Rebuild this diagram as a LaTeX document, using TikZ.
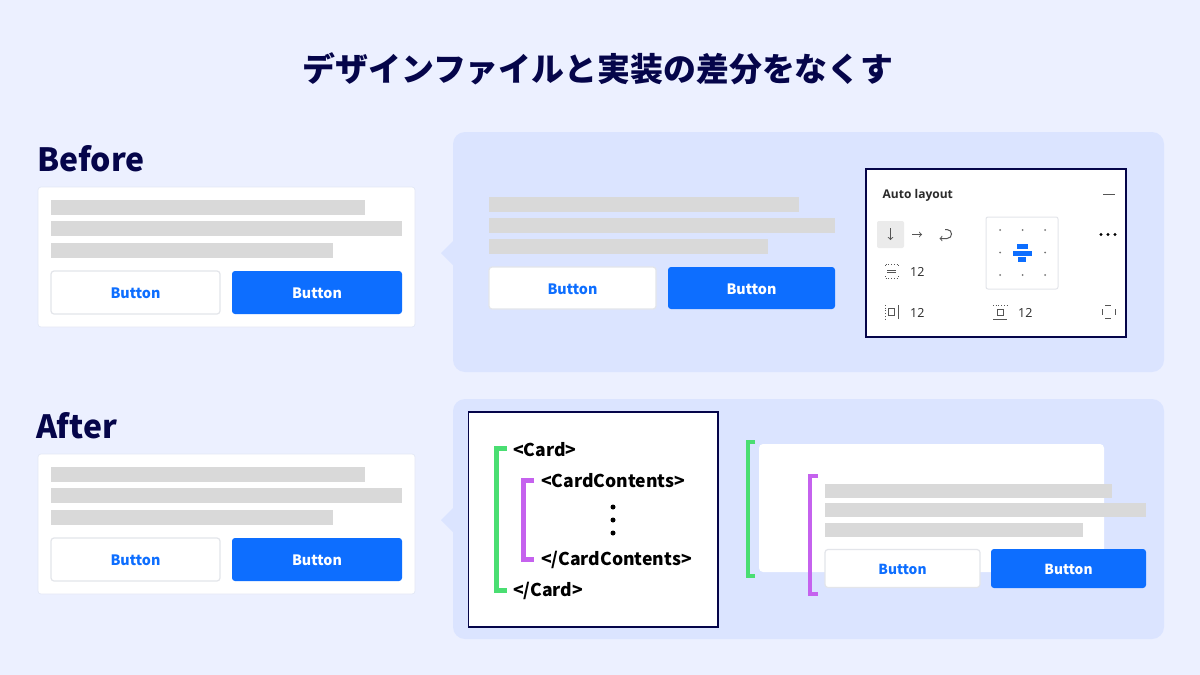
\documentclass[tikz,border=0pt]{standalone}
\usepackage{fontspec}
\setmainfont{Noto Sans CJK JP}
\newfontfamily\panelfont{Open Sans}
\usepackage{xcolor}
\definecolor{pagebg}{HTML}{ECF0FF}
\definecolor{panelbg}{HTML}{DBE4FF}
\definecolor{inkblue}{HTML}{05054A}
\definecolor{btnblue}{HTML}{0D6EFF}
\definecolor{barcol}{HTML}{D9D9D9}
\definecolor{btnedge}{HTML}{E3E5EA}
\definecolor{cardedge}{HTML}{E3E8F6}
\definecolor{brgreen}{HTML}{4ADE72}
\definecolor{brpurple}{HTML}{C562EE}
\definecolor{iconcol}{HTML}{2A2A2A}
\tikzset{
  whitecard/.style={fill=white, draw=cardedge, line width=0.7pt, rounded corners=3pt},
  bluepanel/.style={fill=panelbg, rounded corners=12pt},
  textbar/.style={fill=barcol},
  btnwhite/.style={fill=white, draw=btnedge, line width=1.2pt, rounded corners=3pt, text=btnblue, font=\bfseries\fontsize{14.3}{16}\selectfont, inner sep=0pt, text height=12.5pt, text depth=0.5pt},
  btnfill/.style={fill=btnblue, rounded corners=3pt, text=white, font=\bfseries\fontsize{14.3}{16}\selectfont, inner sep=0pt, text height=12.5pt, text depth=0.5pt},
  headline/.style={text=inkblue, font=\bfseries\fontsize{32}{36}\selectfont, inner sep=0pt, anchor=west},
  codeline/.style={text=black, font=\bfseries\fontsize{17.6}{20}\selectfont, inner sep=0pt, anchor=west, text height=15pt, text depth=3pt},
  framebox/.style={fill=white, draw=inkblue, line width=1.5pt},
  bracketg/.style={draw=brgreen, miter limit=10},
  bracketp/.style={draw=brpurple, miter limit=10},
  paneltext/.style={text=iconcol, font=\panelfont\fontsize{12.5}{14}\selectfont, inner sep=0pt, anchor=west},
  iconline/.style={draw=iconcol!80, line width=0.7pt},
  griddot/.style={fill=black!55},
}
\begin{document}
\begin{tikzpicture}[x=1pt, y=-1pt]
\fill[pagebg] (0,0) rectangle (1200,675);
\useasboundingbox (0,0) rectangle (1200,675);
\node[text=inkblue, font=\bfseries\fontsize{32.9}{36}\selectfont, inner sep=0pt] (title) at (598,69) {デザインファイルと実装の差分をなくす};

\node[headline] (before) at (37,158.5) {Before};
\node[headline] (after) at (36,425.5) {After};

\filldraw[whitecard] (38,187) rectangle (415,327);
\fill[textbar] (51,200) rectangle (365,215);
\fill[textbar] (51,221) rectangle (402,236);
\fill[textbar] (51,243) rectangle (333,258);
\node[btnwhite, minimum width=169pt, minimum height=43pt] (btnA) at (135.5,292.5) {Button};
\node[btnfill, minimum width=170pt, minimum height=43pt] (btnB) at (317,292.5) {Button};

\filldraw[whitecard] (38,454) rectangle (415,594);
\fill[textbar] (51,467) rectangle (365,482);
\fill[textbar] (51,488) rectangle (402,503);
\fill[textbar] (51,510) rectangle (333,525);
\node[btnwhite, minimum width=169pt, minimum height=43pt] (btnC) at (135.5,559.5) {Button};
\node[btnfill, minimum width=170pt, minimum height=43pt] (btnD) at (317,559.5) {Button};

\fill[bluepanel] (453,132) rectangle (1164,372);
\fill[panelbg] (441,253) -- (454,240) -- (454,266) -- cycle;
\fill[bluepanel] (453,399) rectangle (1164,639);
\fill[panelbg] (441,520) -- (454,507) -- (454,533) -- cycle;

\fill[textbar] (489,197) rectangle (799,212);
\fill[textbar] (489,218) rectangle (835,233);
\fill[textbar] (489,239) rectangle (768,254);
\node[btnwhite, minimum width=167pt, minimum height=42pt] (btnE) at (572.5,288) {Button};
\node[btnfill, minimum width=167pt, minimum height=42pt] (btnF) at (751.5,288) {Button};

\filldraw[framebox] (866,169) rectangle (1126,337);
\node[paneltext, font=\panelfont\bfseries\fontsize{12}{14}\selectfont] (autolabel) at (882.5,195) {Auto layout};
\draw[iconline, line width=1pt] (1103,194) -- (1115,194);
\fill[black!8, rounded corners=2pt] (877,221) rectangle (904,248);
\draw[iconline, line width=1pt, ->, >=to] (890.5,228) -- (890.5,240);
\draw[iconline, line width=1pt, ->, >=to] (912,234.5) -- (922,234.5);
\draw[iconline, line width=1pt, ->, >=to] (945,229.5) -- (947,229.5) .. controls (953,229.5) and (953,238.5) .. (947,238.5) -- (939.5,238.5);
\filldraw[fill=white, draw=btnedge, line width=1pt, rounded corners=2pt] (986,217) rectangle (1058,289);
\foreach \gx in {1000,1022.5,1045} {
  \foreach \gy in {230,252.5,275} {
    \fill[griddot] (\gx,\gy) circle (1pt);
  }
}
\fill[white] (1012,243) rectangle (1033,263);
\fill[btnblue] (1017,244) rectangle (1028,249);
\fill[btnblue] (1013,250.5) rectangle (1032,255.5);
\fill[btnblue] (1018,257) rectangle (1026,262);
\fill[black] (1101,234.5) circle (1.7pt);
\fill[black] (1108,234.5) circle (1.7pt);
\fill[black] (1115,234.5) circle (1.7pt);
\draw[iconline, dotted] (885,266) -- (885,264) -- (898,264) -- (898,266);
\draw[iconline, dotted] (885,276) -- (885,278) -- (898,278) -- (898,276);
\draw[iconline] (887,270) -- (896,270);
\draw[iconline] (887,272.5) -- (896,272.5);
\node[paneltext] (gapval) at (910,271.5) {12};
\draw[iconline, dotted] (885,305) -- (885,319);
\draw[iconline] (898,305) -- (898,319);
\draw[iconline] (888.5,308.5) rectangle (894.5,315.5);
\node[paneltext] (padh) at (910,312.5) {12};
\draw[iconline, dotted] (993,305) -- (1007,305);
\draw[iconline] (993,319) -- (1007,319);
\draw[iconline] (997,309) rectangle (1003,315);
\node[paneltext] (padv) at (1018,312.5) {12};
\draw[iconline] (1105,305.5) -- (1111,305.5);
\draw[iconline] (1105,318.5) -- (1111,318.5);
\draw[iconline] (1102,309) -- (1102,315);
\draw[iconline] (1115,309) -- (1115,315);

\filldraw[framebox] (468.5,412) rectangle (718,627);
\draw[bracketg, line width=5pt] (507,448.5) -- (496,448.5) -- (496,590.5) -- (507,590.5);
\draw[bracketp, line width=5pt] (534,480.5) -- (523.5,480.5) -- (523.5,559.5) -- (534,559.5);
\node[codeline] (openCard) at (513,450) {<Card>};
\node[codeline] (openCont) at (541,481) {<CardContents>};
\fill[black] (613,507) circle (2.5pt);
\fill[black] (613,520) circle (2.5pt);
\fill[black] (613,533) circle (2.5pt);
\node[codeline] (closeCont) at (541,559) {</CardContents>};
\node[codeline] (closeCard) at (513,590) {</Card>};

\filldraw[whitecard, draw=none, rounded corners=4pt] (759,444) rectangle (1104,572);
\draw[bracketg, line width=4pt] (755,442) -- (748,442) -- (748,575.5) -- (755,575.5);
\draw[bracketp, line width=4pt] (818,476) -- (810,476) -- (810,594) -- (818,594);
\fill[textbar] (825,484) rectangle (1112,498);
\fill[textbar] (825,503) rectangle (1146,517);
\fill[textbar] (825,523) rectangle (1083,537);
\node[btnwhite, minimum width=155pt, minimum height=38pt, font=\bfseries\fontsize{13.8}{16}\selectfont] (btnG) at (902.5,568.5) {Button};
\node[btnfill, minimum width=155pt, minimum height=39pt, font=\bfseries\fontsize{13.8}{16}\selectfont] (btnH) at (1068.5,568.5) {Button};
\end{tikzpicture}
\end{document}
